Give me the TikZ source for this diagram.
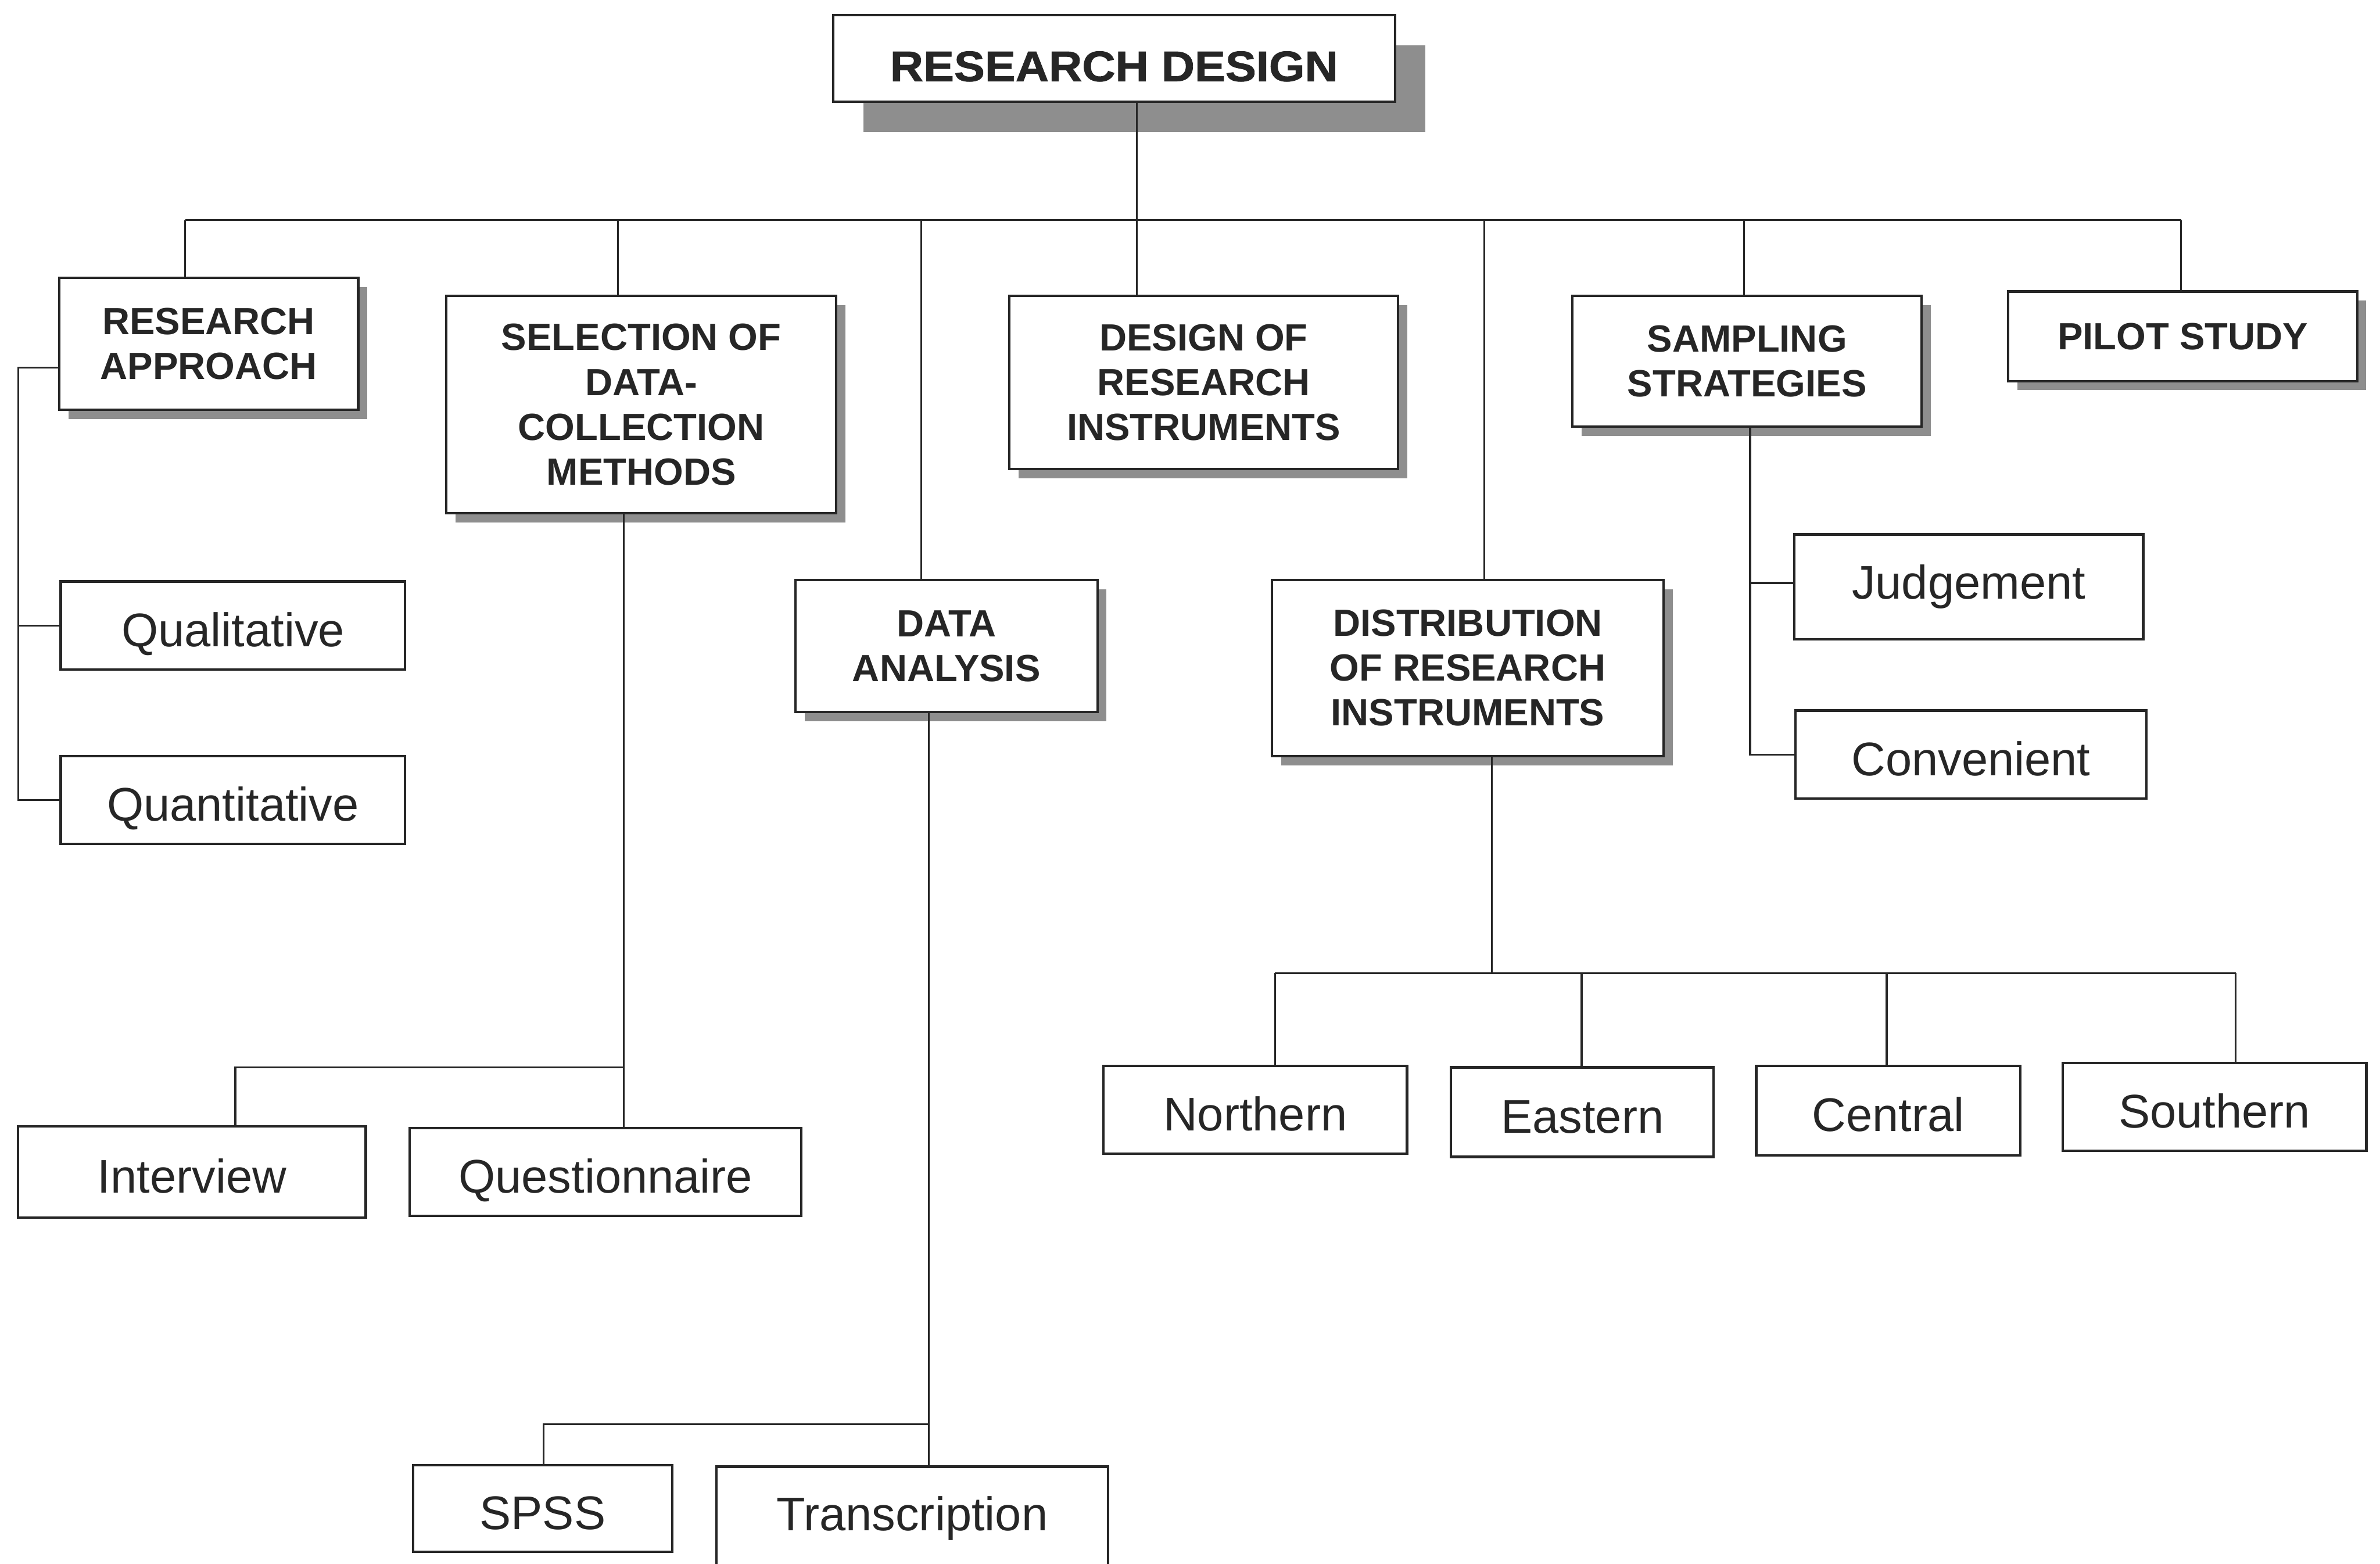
\documentclass[tikz,border=0pt]{standalone}
\usepackage{fontspec}
\setmainfont{Liberation Sans}
\newfontfamily\titlefont[FakeStretch=1.08, BoldFeatures={FakeBold=1.2}]{Liberation Sans}
\usetikzlibrary{shadows}
\definecolor{ink}{HTML}{262626}
\definecolor{shade}{HTML}{8E8E8E}

\tikzset{
  boxbase/.style={draw=ink, line width=0.9pt, fill=white, inner sep=0pt, align=center, text=ink},
  hdrbox/.style={boxbase, font=\fontsize{14.2}{16.8}\selectfont\bfseries,
    drop shadow={shadow xshift=0.12cm, shadow yshift=-0.12cm, fill=shade, opacity=1}},
  leafbox/.style={boxbase, font=\fontsize{17.7}{21}\selectfont, text height=15.6pt, text depth=0pt},
  titlebox/.style={boxbase, font=\titlefont\fontsize{16}{19}\selectfont\bfseries,
    text height=17pt, text depth=0pt,
    drop shadow={shadow xshift=0.4cm, shadow yshift=-0.4cm, fill=shade, opacity=1}},
  conn/.style={draw=ink, line width=0.7pt},
}

\begin{document}
\begin{tikzpicture}[x=0.02cm, y=-0.02cm]
  \fill[white] (0,0) rectangle (1568,1030);
  \useasboundingbox (0,0) rectangle (1568,1030);

  % root
  \node[titlebox, minimum width=7.4cm, minimum height=1.14cm] (rd) at (734,38.5) {RESEARCH DESIGN};

  % first level
  \node[hdrbox, minimum width=3.94cm, minimum height=1.74cm] (ra) at (137.5,226.5) {RESEARCH\\APPROACH};
  \node[hdrbox, minimum width=5.14cm, minimum height=2.86cm] (sel) at (422.5,266.5) {SELECTION OF\\DATA-\\COLLECTION\\METHODS};
  \node[hdrbox, minimum width=3.98cm, minimum height=1.74cm] (da) at (623.5,425.5) {DATA\\ANALYSIS};
  \node[hdrbox, minimum width=5.12cm, minimum height=2.28cm] (dri) at (793,252) {DESIGN OF\\RESEARCH\\INSTRUMENTS};
  \node[hdrbox, minimum width=5.16cm, minimum height=2.32cm] (dist) at (967,440) {DISTRIBUTION\\OF RESEARCH\\INSTRUMENTS};
  \node[hdrbox, minimum width=4.6cm, minimum height=1.72cm] (samp) at (1151,238) {SAMPLING\\STRATEGIES};
  \node[hdrbox, minimum width=4.6cm, minimum height=1.18cm] (pilot) at (1438,221.5) {PILOT STUDY};

  % second level
  \node[leafbox, minimum width=4.54cm, minimum height=1.16cm] (qual) at (153.5,412) {Qualitative};
  \node[leafbox, minimum width=4.54cm, minimum height=1.16cm] (quant) at (153.5,527) {Quantitative};
  \node[leafbox, minimum width=4.58cm, minimum height=1.2cm] (intv) at (126.5,772) {Interview};
  \node[leafbox, minimum width=5.16cm, minimum height=1.16cm] (quest) at (399,772) {Questionnaire};
  \node[leafbox, minimum width=3.42cm, minimum height=1.14cm] (spss) at (357.5,993.5) {SPSS};
  \node[leafbox, minimum width=5.16cm, minimum height=1.36cm, text depth=6.4pt] (trans) at (601,1000) {Transcription};
  \node[leafbox, minimum width=4.0cm, minimum height=1.16cm] (north) at (827,731) {Northern};
  \node[leafbox, minimum width=3.46cm, minimum height=1.18cm] (east) at (1042.5,732.5) {Eastern};
  \node[leafbox, minimum width=3.48cm, minimum height=1.18cm] (cent) at (1244,731.5) {Central};
  \node[leafbox, minimum width=4.0cm, minimum height=1.16cm] (south) at (1459,729) {Southern};
  \node[leafbox, minimum width=4.6cm, minimum height=1.38cm, text depth=6.4pt] (judg) at (1297,386.5) {Judgement};
  \node[leafbox, minimum width=4.62cm, minimum height=1.16cm] (conv) at (1298.5,497) {Convenient};

  % main bus
  \coordinate (b0) at (749,145);
  \coordinate (bra) at (122,145);
  \coordinate (bsel) at (407,145);
  \coordinate (bda) at (607,145);
  \coordinate (bdist) at (978,145);
  \coordinate (bsamp) at (1149,145);
  \coordinate (bpil) at (1437,145);
  \draw[conn] (b0 |- rd.south) -- (b0);
  \draw[conn] (bra) -- (bpil);
  \draw[conn] (bra) -- (bra |- ra.north);
  \draw[conn] (bsel) -- (bsel |- sel.north);
  \draw[conn] (bda) -- (bda |- da.north);
  \draw[conn] (b0) -- (b0 |- dri.north);
  \draw[conn] (bdist) -- (bdist |- dist.north);
  \draw[conn] (bsamp) -- (bsamp |- samp.north);
  \draw[conn] (bpil) -- (bpil |- pilot.north);

  % research approach bracket
  \coordinate (lb) at (12,242);
  \draw[conn] (ra.west |- lb) -- (lb) |- (quant.west);
  \draw[conn] (lb |- qual.west) -- (qual.west);

  % data-collection methods
  \coordinate (s1) at (411,703);
  \coordinate (s2) at (155,703);
  \draw[conn] (s1 |- sel.south) -- (s1 |- quest.north);
  \draw[conn] (s1) -- (s2) -- (s2 |- intv.north);

  % data analysis
  \coordinate (d1) at (612,938);
  \coordinate (d2) at (358,938);
  \draw[conn] (d1 |- da.south) -- (d1 |- trans.north);
  \draw[conn] (d1) -- (d2) -- (d2 |- spss.north);

  % distribution of instruments
  \coordinate (r1) at (983,641);
  \coordinate (r2) at (840,641);
  \coordinate (r3) at (1042,641);
  \coordinate (r4) at (1243,641);
  \coordinate (r5) at (1473,641);
  \draw[conn] (r1 |- dist.south) -- (r1);
  \draw[conn] (r2) -- (r5);
  \draw[conn] (r2) -- (r2 |- north.north);
  \draw[conn] (r3) -- (r3 |- east.north);
  \draw[conn] (r4) -- (r4 |- cent.north);
  \draw[conn] (r5) -- (r5 |- south.north);

  % sampling strategies
  \coordinate (p1) at (1153,384);
  \draw[conn] (p1 |- samp.south) |- (conv.west);
  \draw[conn] (p1) -- (p1 -| judg.west);
\end{tikzpicture}
\end{document}
